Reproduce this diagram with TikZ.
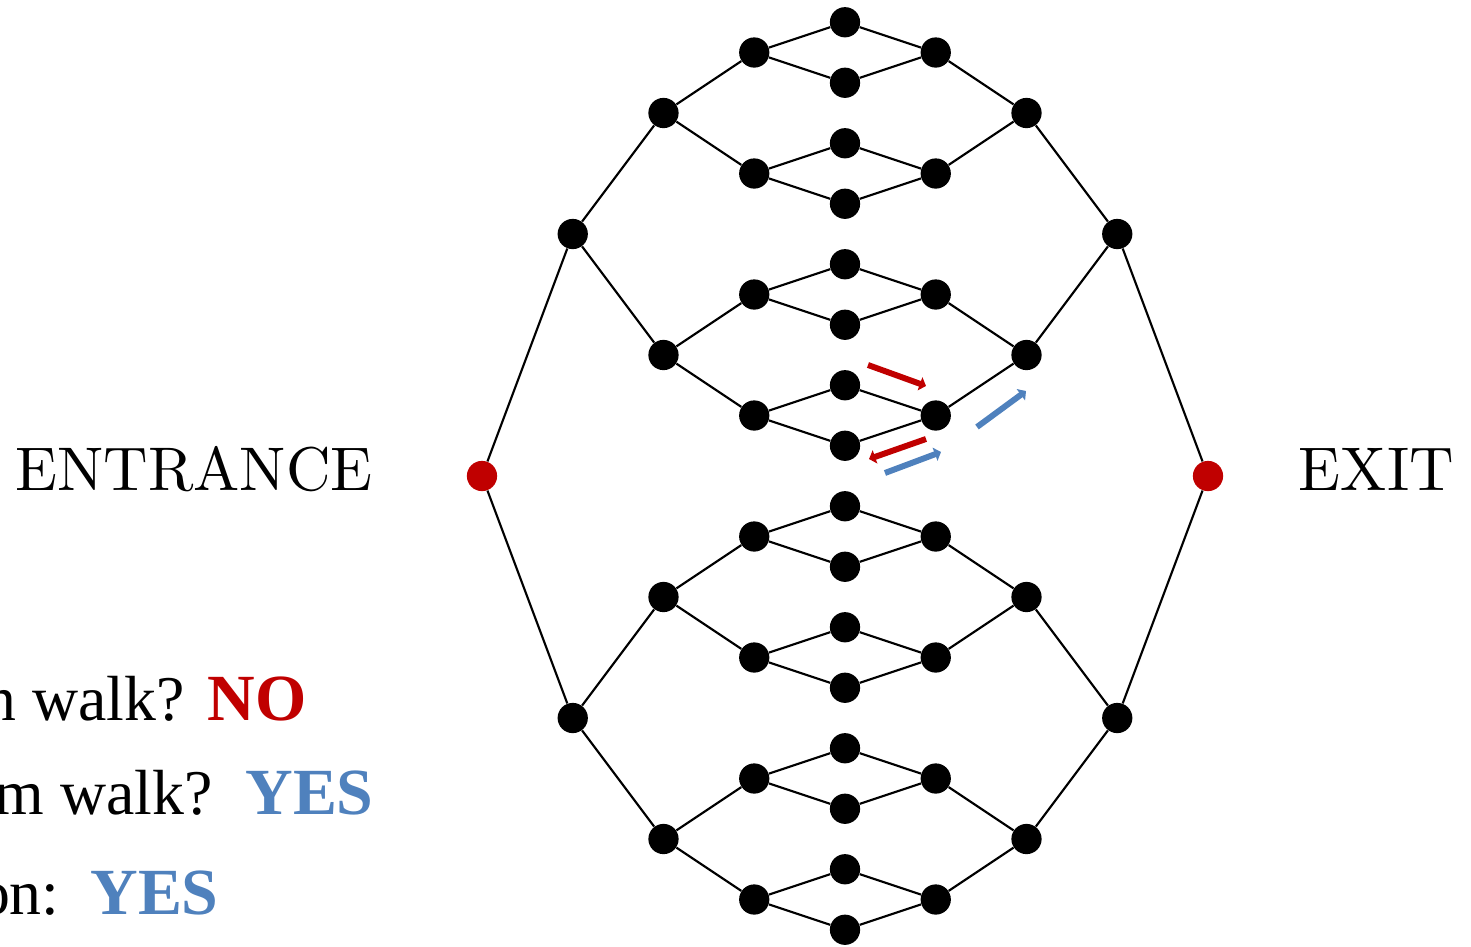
\documentclass[tikz,border=0pt]{standalone}
\usepackage{fontspec}
\newfontfamily\answerfont{Liberation Serif}
\newfontfamily\sidefont{lmroman10-regular}[Extension=.otf]
\usepackage{tikz}
\usetikzlibrary{arrows.meta, positioning}
\definecolor{GTRed}{RGB}{192, 0, 0}
\definecolor{GTBlue}{RGB}{79, 129, 189}

\begin{document}
\begin{tikzpicture}[
    vert/.style={circle, fill=black, inner sep=0pt, minimum size=0.5cm},
    port/.style={vert, fill=GTRed},
    edge/.style={line width=1pt},
    flow/.style={line width=2.8pt, -{Triangle[length=3pt, width=6.5pt]}},
    sidetext/.style={inner sep=0pt, font=\sidefont\fontsize{29}{34}\selectfont},
    question/.style={inner sep=0pt, anchor=base east, font=\answerfont\fontsize{30}{35}\selectfont},
    answer/.style={inner sep=0pt, anchor=base west, font=\answerfont\bfseries\fontsize{31}{36}\selectfont}]
    \clip (-13.967,-7.769) rectangle (10.347,7.868);

    % entrance and exit
    \node[port] (en) at (-6,0) {};
    \node[port] (ex) at (6,0) {};
    \node[sidetext] (entrance) at (-10.76,0.107) {ENTRANCE};
    \node[sidetext] (exit) at (8.785,0.107) {EXIT};

    % --- left and right trees ---
    \foreach \i in {1,2} {
        \node[vert] (L1-\i) at (-4.5,12-8*\i) {};
        \node[vert] (R1-\i) at (4.5,12-8*\i) {};
    }
    \foreach \i in {1,...,4} {
        \node[vert] (L2-\i) at (-3,10-4*\i) {};
        \node[vert] (R2-\i) at (3,10-4*\i) {};
    }
    \foreach \i in {1,...,8} {
        \node[vert] (L3-\i) at (-1.5,9-2*\i) {};
        \node[vert] (R3-\i) at (1.5,9-2*\i) {};
    }
    % glued middle column
    \foreach \i in {1,...,16} {
        \node[vert] (M-\i) at (0,8.5-\i) {};
    }

    % edges
    \foreach \i in {1,2} {
        \draw[edge] (en) -- (L1-\i);
        \draw[edge] (ex) -- (R1-\i);
    }
    \foreach \i in {1,...,4} {
        \pgfmathtruncatemacro\p{(\i+1)/2}
        \draw[edge] (L1-\p) -- (L2-\i);
        \draw[edge] (R1-\p) -- (R2-\i);
    }
    \foreach \i in {1,...,8} {
        \pgfmathtruncatemacro\p{(\i+1)/2}
        \draw[edge] (L2-\p) -- (L3-\i);
        \draw[edge] (R2-\p) -- (R3-\i);
    }
    \foreach \i in {1,...,16} {
        \pgfmathtruncatemacro\p{(\i+1)/2}
        \draw[edge] (L3-\p) -- (M-\i) -- (R3-\p);
    }

    % walk directions
    \draw[flow, GTRed] (0.380,1.835) -- (1.339,1.488);
    \draw[flow, GTRed] (1.339,0.612) -- (0.397,0.281);
    \draw[flow, GTBlue] (0.661,0.050) -- (1.587,0.397);
    \draw[flow, GTBlue] (2.182,0.810) -- (2.992,1.405);

    % answers
    \node[question] (q1) at (-10.909,-4.033) {n walk?};
    \node[answer, GTRed] (a1) at (-10.545,-4.033) {NO};
    \node[question] (q2) at (-10.446,-5.603) {m walk?};
    \node[answer, GTBlue] (a2) at (-9.917,-5.603) {YES};
    \node[question] (q3) at (-12.975,-7.256) {on:};
    \node[answer, GTBlue] (a3) at (-12.479,-7.256) {YES};
\end{tikzpicture}
\end{document}
